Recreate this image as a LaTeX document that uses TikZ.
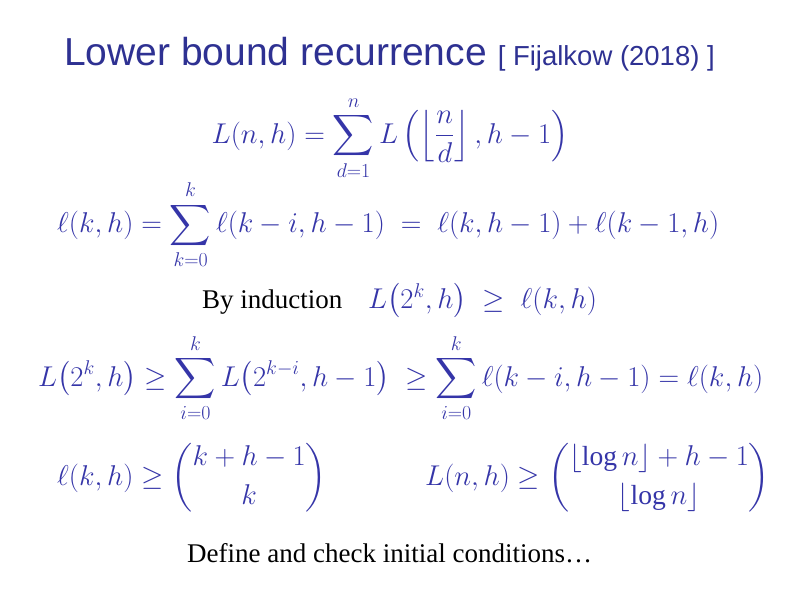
\documentclass[tikz,border=0pt]{standalone}
\usepackage{amsmath}
\usepackage{fontspec}
\setmainfont{Liberation Serif}
\newfontfamily\titlefont{Liberation Sans}
\definecolor{mathblue}{HTML}{3535A8}
\definecolor{titleblue}{HTML}{2E3192}
\begin{document}
\begin{tikzpicture}[x=1pt,y=-1pt,
  eq/.style={inner sep=0pt,text=mathblue,font=\fontsize{24}{28}\selectfont,scale=1.15,transform shape},
  txt/.style={inner sep=0pt,font=\fontsize{27}{31}\selectfont}]
\useasboundingbox (0,0) rectangle (794,595);
\node[inner sep=0pt,anchor=base west,text=titleblue] (title) at (64,65)
  {\titlefont\fontsize{39}{43}\selectfont Lower bound recurrence {\fontsize{27.5}{30}\selectfont [ Fijalkow (2018) ]}};
\node[eq] (e1) at (390,138) {$\displaystyle L(n,h)=\sum_{d=1}^{n} L\left(\left\lfloor\frac{n}{d}\right\rfloor,h-1\right)$};
\node[eq,anchor=west] (e2) at (57,225) {$\displaystyle \ell(k,h)=\sum_{k=0}^{k}\ell(k-i,h-1)\;=\;\ell(k,h-1)+\ell(k-1,h)$};
\node[txt,anchor=base west] (ind) at (202,308) {By induction};
\node[eq,anchor=base west] (e3) at (368,308) {$L\big(2^k,h\big)\;\geq\;\ell(k,h)$};
\node[eq,anchor=west] (e4) at (38,378) {$\displaystyle L\big(2^k,h\big)\geq\sum_{i=0}^{k}L\big(2^{k-i},h-1\big)\;\geq\sum_{i=0}^{k}\ell(k-i,h-1)=\ell(k,h)$};
\node[eq,anchor=west] (e5) at (57,478) {$\displaystyle \ell(k,h)\geq\binom{k+h-1}{k}$};
\node[eq,anchor=west] (e6) at (425,478) {$\displaystyle L(n,h)\geq\binom{\lfloor\log n\rfloor+h-1}{\lfloor\log n\rfloor}$};
\node[txt,anchor=base west] (def) at (187,562) {Define and check initial conditions\ldots};
\end{tikzpicture}
\end{document}
